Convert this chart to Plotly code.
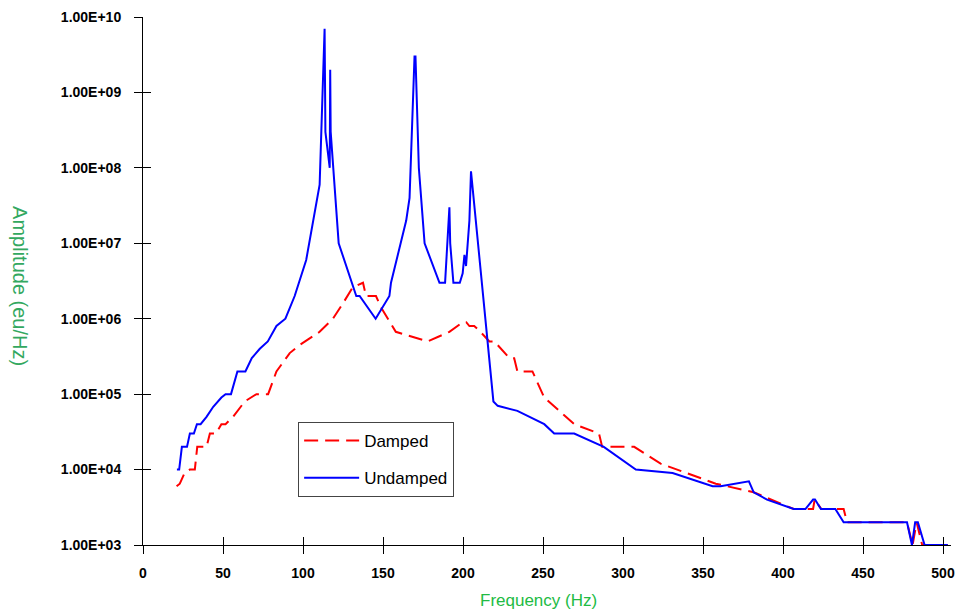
import plotly.graph_objects as go

# Frequency (Hz) / amplitude (eu/Hz)
damped_f = [21, 23, 26, 29.3, 32.4, 33.9, 39.7, 41.8, 45.5, 49, 51.6, 56.3, 63.6, 70.9, 78.2,
            83.4, 91.7, 98, 110.4, 118.7, 125, 131, 137.5, 139.4, 145.6, 148.9, 158, 178,
            191.5, 199.8, 202, 204, 207, 210, 216.5, 219.6, 229, 232, 234, 243.4, 250.8,
            269.5, 285, 287, 307, 323.5, 358, 381.7, 406.7, 418.8, 419.8, 424, 437.9, 440,
            477.5, 481, 483.5, 487, 503]
damped_amp = [6e3, 6.5e3, 9e3, 1e4, 1e4, 2e4, 2e4, 3e4, 3e4, 4e4, 4e4, 5e4, 8e4, 1e5, 1e5,
              2e5, 3.5e5, 4.5e5, 6.7e5, 1e6, 1.6e6, 2.6e6, 3e6, 2e6, 2e6, 1.4e6, 6.7e5, 5e5,
              6.7e5, 9e5, 9e5, 8e5, 8e5, 7e5, 5e5, 5e5, 3e5, 3e5, 2e5, 2e5, 9e4,
              4e4, 3e4, 2e4, 2e4, 1.2e4, 6.5e3, 5e3, 3e3, 3e3, 4e3, 3e3, 3e3, 2e3,
              2e3, 1e3, 2e3, 1e3, 1e3]

undamped_f = [21.2, 22.6, 24.3, 27.5, 29.3, 31.8, 33.7, 36, 39.7, 43.9, 49, 51.6, 55, 59, 64,
              68, 73, 78, 83.4, 89, 94.8, 102, 110.4, 113.5, 114, 116.7, 117, 117.3, 122.3,
              133.3, 135.4, 145.4, 154, 155, 164.5, 166.6, 169.7, 170.3, 172.4, 176, 185.3,
              188.8, 191.5, 192, 194, 198, 199.8, 200.9, 201.9, 202.3, 204, 205, 219, 221.7,
              234, 250.8, 257, 269.5, 288, 308, 331, 356, 361, 378.7, 381.7, 390, 406.7,
              414, 418.8, 420, 423.7, 432.7, 437.9, 477.5, 480.6, 482.6, 484.3, 488.5, 503]
undamped_amp = [1e4, 1e4, 2e4, 2e4, 3e4, 3e4, 4e4, 4e4, 5e4, 6.8e4, 9e4, 1e5, 1e5, 2e5, 2e5,
                3e5, 4e5, 5e5, 8e5, 1e6, 2e6, 6e6, 6e7, 7e9, 3e8, 1e8, 2e9, 3e8, 1e7,
                2e6, 2e6, 1e6, 2e6, 3e6, 2e7, 4e7, 3e9, 3e9, 1e8, 1e7, 3e6,
                3e6, 3e7, 1e7, 3e6, 3e6, 4e6, 7e6, 5e6, 7e6, 2e7, 9e7, 8e4, 7e4,
                6e4, 4e4, 3e4, 3e4, 2e4, 1e4, 9e3, 6e3, 6e3, 7e3, 5e3, 4e3, 3e3,
                3e3, 4e3, 4e3, 3e3, 3e3, 2e3, 2e3, 1e3, 2e3, 2e3, 1e3, 1e3]

x_ticks = [0, 50, 100, 150, 200, 250, 300, 350, 400, 450, 500]
y_ticks = [1e3, 1e4, 1e5, 1e6, 1e7, 1e8, 1e9, 1e10]
y_labels = ["1.00E+03", "1.00E+04", "1.00E+05", "1.00E+06",
            "1.00E+07", "1.00E+08", "1.00E+09", "1.00E+10"]

FONT = "Liberation Sans, Arial, sans-serif"

fig = go.Figure()
fig.add_trace(go.Scatter(x=damped_f, y=damped_amp, mode="lines", name="Damped",
                         legendgroup="a",
                         line=dict(color="#ff0000", width=2, dash="14px,7px")))
fig.add_trace(go.Scatter(x=undamped_f, y=undamped_amp, mode="lines", name="Undamped",
                         legendgroup="b",
                         line=dict(color="#0000ff", width=2)))
# empty trace so the overlay axes (inner half of the ticks) get drawn
fig.add_trace(go.Scatter(x=[], y=[], xaxis="x2", yaxis="y2", showlegend=False,
                         hoverinfo="skip"))

tick_font = dict(family=FONT, size=14, color="black", weight="bold")

fig.update_layout(
    width=958, height=609,
    margin=dict(l=143, r=7, t=17, b=64, autoexpand=False),
    plot_bgcolor="white", paper_bgcolor="white",
    font=dict(family=FONT),
    xaxis=dict(range=[0, 505], tickvals=x_ticks, ticks="outside", ticklen=8,
               tickcolor="black", showline=True, linecolor="black", linewidth=1,
               showgrid=False, zeroline=False, tickfont=tick_font, automargin=False,
               ticklabelstandoff=7),
    yaxis=dict(type="log", range=[3, 10], tickvals=y_ticks, ticktext=y_labels,
               ticks="outside", ticklen=8, tickcolor="black", showline=True,
               linecolor="black", linewidth=1, showgrid=False, zeroline=False,
               tickfont=tick_font, automargin=False, ticklabelstandoff=10),
    xaxis2=dict(overlaying="x", anchor="y2", range=[0, 505], tickvals=x_ticks,
                ticks="inside", ticklen=8, tickcolor="black", showticklabels=False,
                showgrid=False, zeroline=False, showline=False, automargin=False),
    yaxis2=dict(overlaying="y", anchor="x2", type="log", range=[3, 10], tickvals=y_ticks,
                ticks="inside", ticklen=8, tickcolor="black", showticklabels=False,
                showgrid=False, zeroline=False, showline=False, automargin=False),
    legend=dict(x=0.192, y=0.233, xanchor="left", yanchor="top",
                bgcolor="white", bordercolor="#444444", borderwidth=1,
                font=dict(size=17, color="black"), tracegroupgap=12, itemwidth=55),
    showlegend=True,
    annotations=[
        dict(text="Frequency (Hz)", xref="paper", yref="paper", x=0.49, y=-0.105,
             xanchor="center", yanchor="middle", showarrow=False,
             font=dict(size=17, color="#22bb44")),
        dict(text="Amplitude (eu/Hz)", xref="paper", yref="paper", x=-0.152, y=0.49,
             xanchor="center", yanchor="middle", showarrow=False, textangle=90,
             font=dict(size=20, color="#33a860")),
    ],
)

# drop the default page margin so the 958x609 figure fills the window exactly
fig.write_html("out.html", config={"displayModeBar": False},
               post_script="document.body.style.margin='0';document.body.style.overflow='hidden';")
